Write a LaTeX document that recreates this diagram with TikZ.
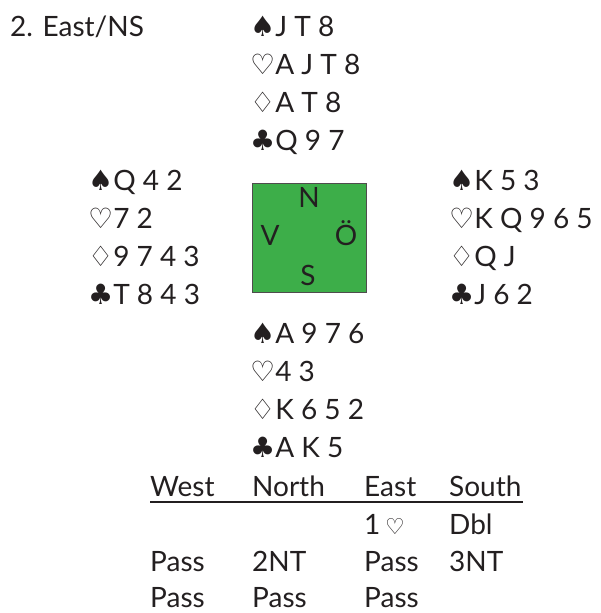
\documentclass[tikz,border=0pt]{standalone}
\usepackage{fontspec}
\setmainfont{Lato}
\newfontfamily\suitfont{DejaVu Sans}
\definecolor{ink}{HTML}{231F20}
\definecolor{tablegreen}{HTML}{3DAE49}
\newcommand{\Sp}{{\suitfont ♠}}
\newcommand{\Hs}{{\suitfont ♡}}
\newcommand{\Di}{{\suitfont ♢}}
\newcommand{\Cl}{{\suitfont ♣}}
\begin{document}
\begin{tikzpicture}[x=1pt,y=-1pt,
  txt/.style={anchor=base west, inner sep=0pt, text=ink,
    font=\fontsize{28}{34}\selectfont},
  seat/.style={anchor=base, inner sep=0pt, text=ink,
    font=\fontsize{28}{34}\selectfont},
  tablebox/.style={draw=ink!80, line width=0.8pt, fill=tablegreen}]
\useasboundingbox (0,0) rectangle (600,613);

% deal heading
\node[txt] (title) at (10,36) {2. East/NS};

% North
\node[txt] (n1) at (250,36)  {\Sp J T 8};
\node[txt] (n2) at (250,74)  {\Hs A J T 8};
\node[txt] (n3) at (250,112) {\Di A T 8};
\node[txt] (n4) at (250,150) {\Cl Q 9 7};

% West
\node[txt] (w1) at (88,190) {\Sp Q 4 2};
\node[txt] (w2) at (88,228) {\Hs 7 2};
\node[txt] (w3) at (88,266) {\Di 9 7 4 3};
\node[txt] (w4) at (88,304) {\Cl T 8 4 3};

% East
\node[txt] (e1) at (449,190) {\Sp K 5 3};
\node[txt] (e2) at (449,228) {\Hs K Q 9 6 5};
\node[txt] (e3) at (449,266) {\Di Q J};
\node[txt] (e4) at (449,304) {\Cl J 6 2};

% table with compass letters
\draw[tablebox] (252,183) rectangle (366,292);
\node[seat] (sN) at (309,207) {N};
\node[seat] (sV) at (270,245) {V};
\node[seat] (sO) at (346,245) {Ö};
\node[seat] (sS) at (308,285) {S};

% South
\node[txt] (s1) at (250,343) {\Sp A 9 7 6};
\node[txt] (s2) at (250,381) {\Hs 4 3};
\node[txt] (s3) at (250,419) {\Di K 6 5 2};
\node[txt] (s4) at (250,457) {\Cl A K 5};

% bidding
\node[txt] (hW) at (150,496) {West};
\node[txt] (hN) at (252,496) {North};
\node[txt] (hE) at (364,496) {East};
\node[txt] (hS) at (449,496) {South};
\draw[ink, line width=1.2pt] (150,502) -- (523,502);

\node[txt] (b1E) at (364,534) {1\,{\suitfont\fontsize{22}{24}\selectfont ♡}};
\node[txt] (b1S) at (449,534) {Dbl};
\node[txt] (b2W) at (150,571) {Pass};
\node[txt] (b2N) at (252,571) {2NT};
\node[txt] (b2E) at (364,571) {Pass};
\node[txt] (b2S) at (449,571) {3NT};
\node[txt] (b3W) at (150,607) {Pass};
\node[txt] (b3N) at (252,607) {Pass};
\node[txt] (b3E) at (364,607) {Pass};
\end{tikzpicture}
\end{document}
